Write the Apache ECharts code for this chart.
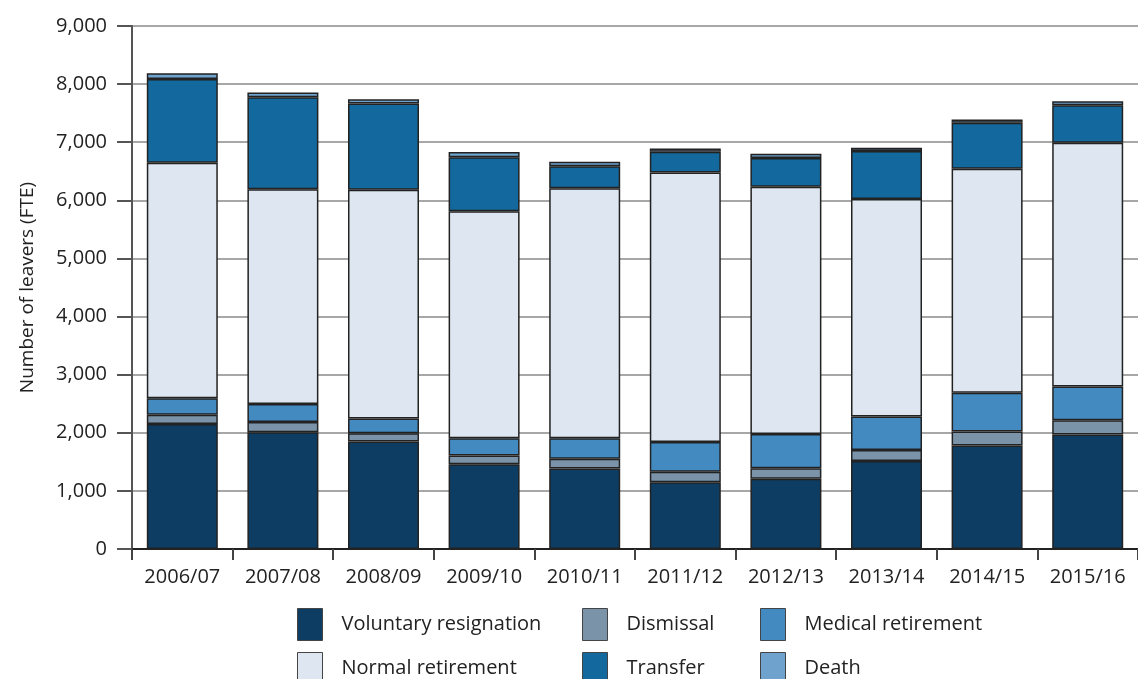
<!DOCTYPE html>
<html lang="en">
<head>
<meta charset="UTF-8">
<title>Leavers by reason</title>
<script src="https://cdn.jsdelivr.net/npm/echarts@6.0.0/dist/echarts.min.js"></script>
<style>
  html, body { margin: 0; padding: 0; background: #fff; }
  #chart { width: 1138px; height: 679px; }
</style>
</head>
<body>
<div id="chart"></div>
<script>
  // data
  const years = ['2006/07', '2007/08', '2008/09', '2009/10', '2010/11', '2011/12', '2012/13', '2013/14', '2014/15', '2015/16'];
  const voluntary = [2150, 2010, 1850, 1460, 1385, 1150, 1210, 1515, 1780, 1970];
  const dismissal = [160, 175, 140, 150, 170, 180, 180, 190, 240, 245];
  const medical = [285, 310, 255, 295, 350, 510, 590, 575, 670, 580];
  const normal = [4050, 3695, 3935, 3905, 4305, 4640, 4255, 3745, 3855, 4195];
  const transfer = [1445, 1585, 1485, 930, 375, 355, 495, 825, 790, 645];
  const death = [95, 80, 75, 90, 80, 55, 70, 55, 55, 70];
  const yTicks = [0, 1000, 2000, 3000, 4000, 5000, 6000, 7000, 8000, 9000];

  const seriesDefs = [
    { name: 'Voluntary resignation', data: voluntary, color: '#0e3d63' },
    { name: 'Dismissal', data: dismissal, color: '#7a93a9' },
    { name: 'Medical retirement', data: medical, color: '#438ac1' },
    { name: 'Normal retirement', data: normal, color: '#dde6f1' },
    { name: 'Transfer', data: transfer, color: '#13699d' },
    { name: 'Death', data: death, color: '#6fa3cd' }
  ];

  const chart = echarts.init(document.getElementById('chart'));
  const font = "'Open Sans', sans-serif";

  // one legend per column so the columns line up like the original
  function legendCol(names, left) {
    return {
      data: names,
      orient: 'vertical',
      left: left,
      top: 603,
      height: 120,
      icon: 'rect',
      itemWidth: 25,
      itemHeight: 32,
      itemGap: 11,
      selectedMode: false,
      itemStyle: { borderColor: '#444', borderWidth: 1 },
      textStyle: { fontFamily: font, fontSize: 20, color: '#222', padding: [0, 0, 0, 14] }
    };
  }

  chart.setOption({
    animation: false,
    textStyle: { fontFamily: font },
    grid: { left: 132, right: 0, top: 26, bottom: 130, containLabel: false },
    legend: [
      legendCol(['Voluntary resignation', 'Normal retirement'], 292),
      legendCol(['Dismissal', 'Transfer'], 577),
      legendCol(['Medical retirement', 'Death'], 755)
    ],
    xAxis: {
      type: 'category',
      data: years,
      axisLine: { lineStyle: { color: '#222', width: 2 } },
      axisTick: { show: true, alignWithLabel: false, length: 11, lineStyle: { color: '#444', width: 2 } },
      axisLabel: { fontFamily: font, fontSize: 20, color: '#222', margin: 18 }
    },
    yAxis: {
      type: 'value',
      min: yTicks[0],
      max: yTicks[yTicks.length - 1],
      interval: 1000,
      name: 'Number of leavers (FTE)',
      nameLocation: 'middle',
      nameGap: 95,
      nameTextStyle: { fontFamily: font, fontSize: 19, color: '#222' },
      axisLine: { show: true, lineStyle: { color: '#555', width: 2 } },
      axisTick: { show: true, length: 15, lineStyle: { color: '#555', width: 2 } },
      axisLabel: {
        fontFamily: font, fontSize: 20, color: '#222', margin: 25,
        formatter: v => v.toLocaleString('en-US')
      },
      splitLine: { show: true, lineStyle: { color: '#8a8a8a', width: 1.5 } }
    },
    series: seriesDefs.map(s => ({
      name: s.name,
      type: 'bar',
      stack: 'total',
      data: s.data,
      barWidth: 71,
      itemStyle: { color: s.color, borderColor: '#222', borderWidth: 1.5 }
    }))
  });
</script>
</body>
</html>
